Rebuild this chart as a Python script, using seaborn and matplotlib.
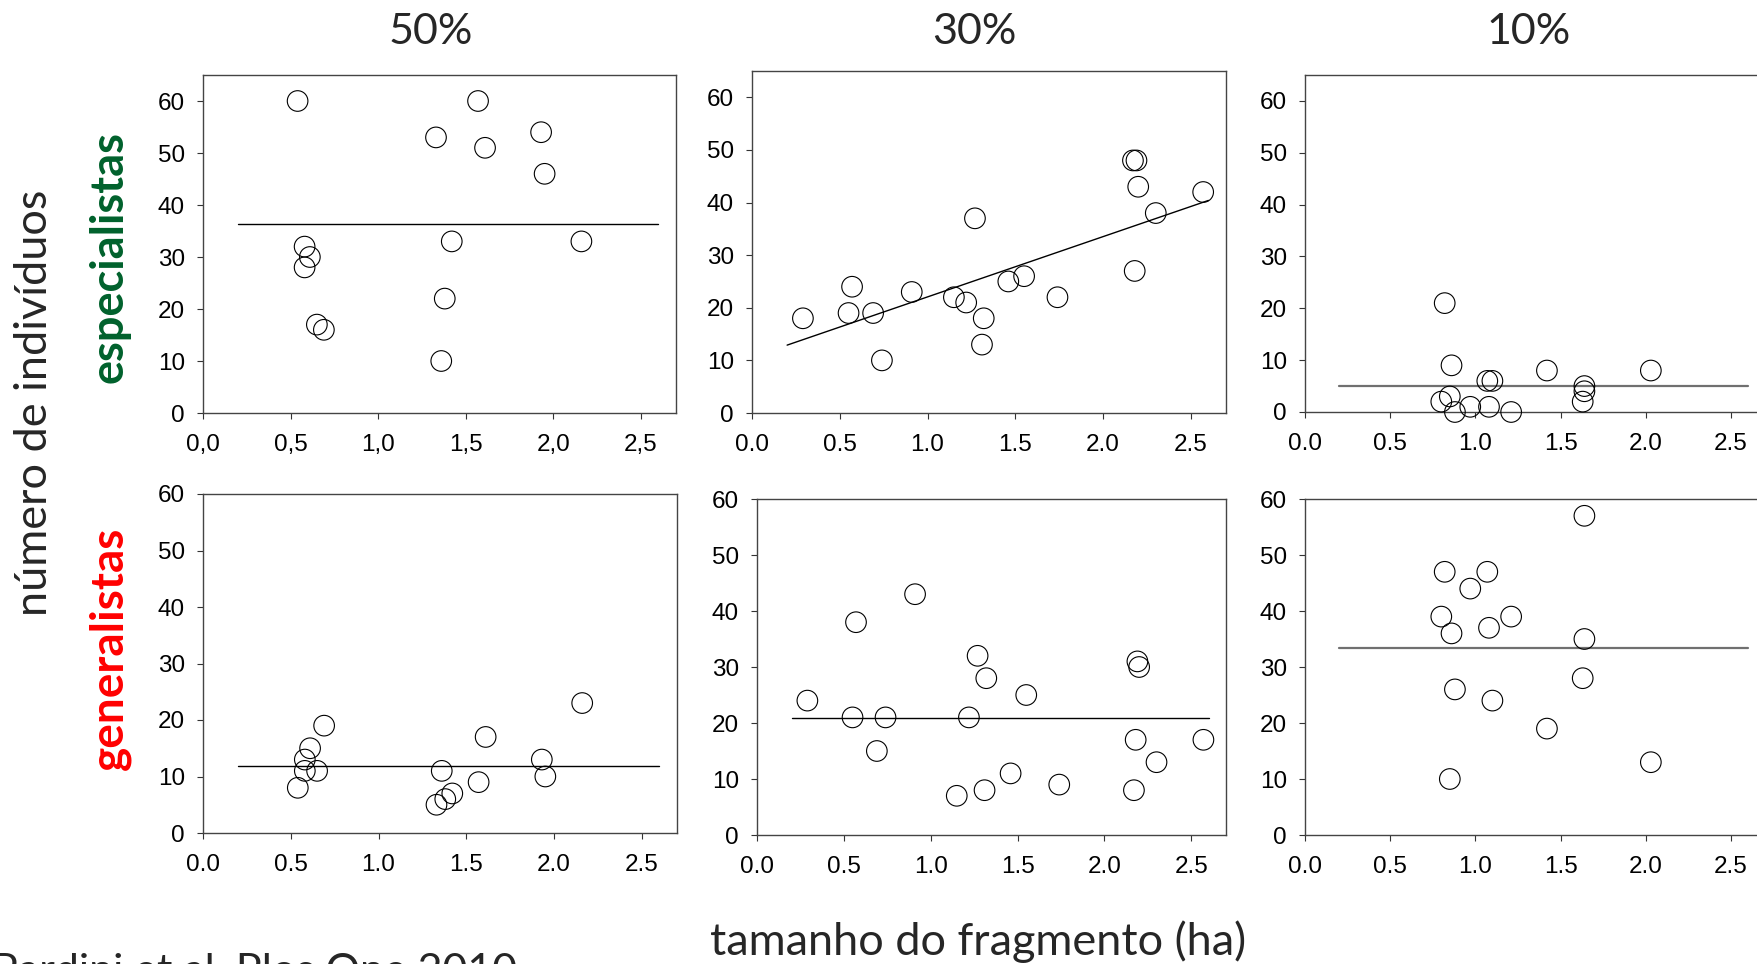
#!/usr/bin/env python3
"""Specialist vs generalist abundance against fragment size, three landscapes."""

import matplotlib
matplotlib.use("Agg")
import matplotlib.pyplot as plt
from matplotlib.ticker import FuncFormatter, MultipleLocator
import pandas as pd
import seaborn as sns


# fragment size (ha) in each landscape (% forest cover)
x50 = [0.54, 0.58, 0.58, 0.61, 0.65, 0.69, 1.33, 1.36, 1.38, 1.42, 1.57, 1.61, 1.93, 1.95, 2.16]
esp50 = [60, 32, 28, 30, 17, 16, 53, 10, 22, 33, 60, 51, 54, 46, 33]
gen50 = [8, 13, 11, 15, 11, 19, 5, 11, 6, 7, 9, 17, 13, 10, 23]

x30 = [0.29, 0.55, 0.57, 0.69, 0.74, 0.91, 1.15, 1.22, 1.27, 1.31,
       1.32, 1.46, 1.55, 1.74, 2.17, 2.18, 2.19, 2.20, 2.30, 2.57]
esp30 = [18, 19, 24, 19, 10, 23, 22, 21, 37, 13, 18, 25, 26, 22, 48, 27, 48, 43, 38, 42]
gen30 = [24, 21, 38, 15, 21, 43, 7, 21, 32, 8, 28, 11, 25, 9, 8, 17, 31, 30, 13, 17]

x10 = [0.80, 0.82, 0.85, 0.86, 0.88, 0.97, 1.07, 1.08, 1.10, 1.21, 1.42, 1.63, 1.64, 1.64, 2.03]
esp10 = [2, 21, 3, 9, 0, 1, 6, 1, 6, 0, 8, 2, 5, 4, 8]
gen10 = [39, 47, 10, 36, 26, 44, 47, 37, 24, 39, 19, 28, 57, 35, 13]

LANDSCAPES = ["50%", "30%", "10%"]
GROUPS = ["especialistas", "generalistas"]
GROUP_COLORS = {"especialistas": "#00612c", "generalistas": "#ff0000"}

# fitted line: flat mean everywhere except the 30% specialists,
# whose regression line is read from the figure at the ends of FIT_RANGE
FIT_RANGE = [0.2, 2.6]
trend30_esp = [12.9, 40.4]
TRENDS = {("30%", "especialistas"): trend30_esp}

W, H = 1758, 964

# axes boxes in pixels: left, top, right, bottom
AXES_PX = {
    (0, 0): (203, 75, 676, 413),
    (0, 1): (752, 71, 1226, 413),
    (0, 2): (1305, 75, 1765, 412),
    (1, 0): (203, 494, 677, 833),
    (1, 1): (757, 499, 1226, 835),
    (1, 2): (1305, 499, 1765, 835),
}
YMAX = [65, 60]
TITLE_X = [431, 974, 1529]


def build_frame() -> pd.DataFrame:
    rows = []
    for land, xs, esp, gen in [("50%", x50, esp50, gen50),
                               ("30%", x30, esp30, gen30),
                               ("10%", x10, esp10, gen10)]:
        for x, e, g in zip(xs, esp, gen):
            rows.append({"landscape": land, "group": "especialistas", "size": x, "n": e})
            rows.append({"landscape": land, "group": "generalistas", "size": x, "n": g})
    return pd.DataFrame(rows)


def fit_values(sub: pd.DataFrame, key) -> list[float]:
    if key in TRENDS:
        return TRENDS[key]
    mean = sub["n"].mean()
    return [mean, mean]


def px_rect(box):
    left, top, right, bottom = box
    return [left / W, 1 - bottom / H, (right - left) / W, (bottom - top) / H]


def main() -> None:
    sns.set_theme(style="white")
    plt.rcParams["font.family"] = ["Liberation Sans", "DejaVu Sans"]

    df = build_frame()
    fig = plt.figure(figsize=(W / 100, H / 100), dpi=100)

    for (r, c), box in AXES_PX.items():
        land, group = LANDSCAPES[c], GROUPS[r]
        sub = df[(df["landscape"] == land) & (df["group"] == group)]
        ax = fig.add_axes(px_rect(box))

        sns.scatterplot(data=sub, x="size", y="n", marker="o", s=220,
                        facecolors="none", edgecolor="black", linewidth=0.8,
                        ax=ax, zorder=3, clip_on=False, legend=False)

        grey = land == "10%"
        ax.plot(FIT_RANGE, fit_values(sub, (land, group)),
                color="#707070" if grey else "black",
                lw=1.6 if grey else 1.0, zorder=2)

        ax.set_xlim(0, 2.7)
        ax.set_ylim(0, YMAX[r])
        ax.xaxis.set_major_locator(MultipleLocator(0.5))
        ax.yaxis.set_major_locator(MultipleLocator(10))
        if (r, c) == (0, 0):
            ax.xaxis.set_major_formatter(FuncFormatter(lambda v, _: f"{v:.1f}".replace(".", ",")))
        else:
            ax.xaxis.set_major_formatter(FuncFormatter(lambda v, _: f"{v:.1f}"))
        ax.set_xlabel("")
        ax.set_ylabel("")
        ax.tick_params(axis="both", direction="out", length=4, width=0.8,
                       colors="#333333", labelcolor="black", labelsize=17.5,
                       bottom=True, left=True)
        ax.tick_params(axis="x", pad=11)
        ax.tick_params(axis="y", pad=9)
        for spine in ax.spines.values():
            spine.set_color("#444444")
            spine.set_linewidth(1.0)

    label_font = ["Lato", "DejaVu Sans"]
    for land, tx in zip(LANDSCAPES, TITLE_X):
        fig.text(tx / W, 1 - 32 / H, land, ha="center", va="center",
                 fontsize=31, family=label_font)

    fig.text(35 / W, 1 - 403 / H, "número de indivíduos", rotation=90,
             ha="center", va="center", fontsize=32.5, family=label_font)
    fig.text(110 / W, 1 - 257 / H, "especialistas", rotation=90, ha="center",
             va="center", fontsize=32.5, fontweight="bold",
             color=GROUP_COLORS["especialistas"], family=label_font)
    fig.text(110 / W, 1 - 648 / H, "generalistas", rotation=90, ha="center",
             va="center", fontsize=33, fontweight="bold",
             color=GROUP_COLORS["generalistas"], family=label_font)
    fig.text(978 / W, 1 - 942 / H, "tamanho do fragmento (ha)", ha="center",
             va="center", fontsize=32.5, family=label_font)
    fig.text(-8 / W, 1 - 953 / H, "Pardini et al. Plos One 2010", ha="left",
             va="top", fontsize=31, family=label_font)

    fig.savefig("out.png", dpi=100)
    plt.close(fig)


if __name__ == "__main__":
    main()
